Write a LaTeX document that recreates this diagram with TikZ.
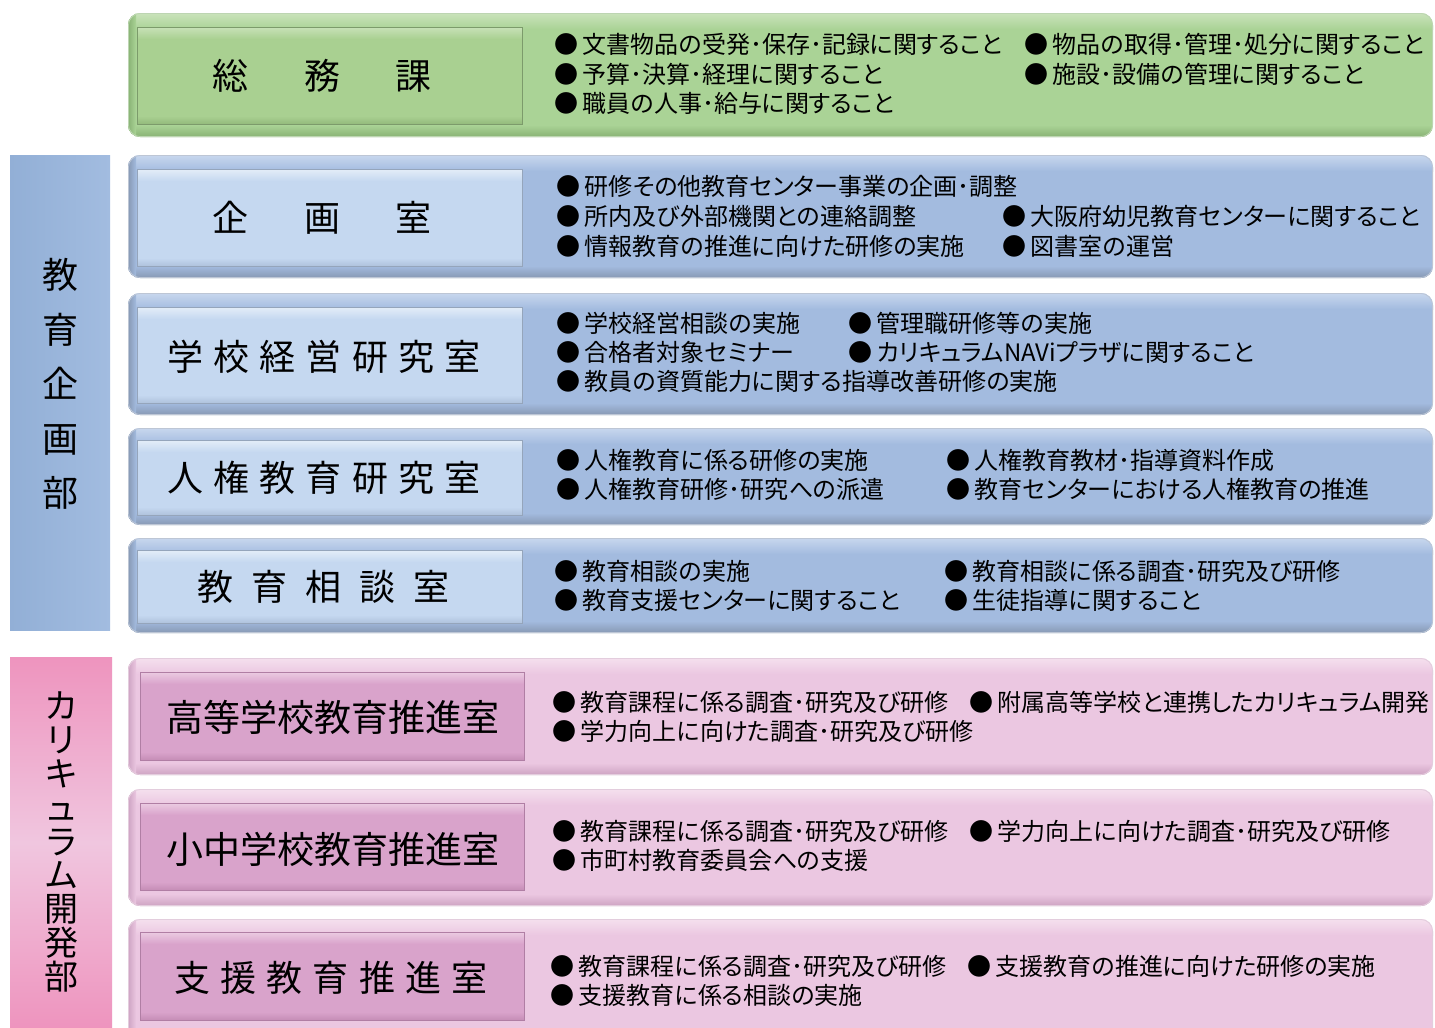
\documentclass[tikz,border=0pt]{standalone}
\usepackage{fontspec}
\setmainfont{Noto Sans CJK JP}
\newfontfamily\jpprop[RawFeature=+palt]{Noto Sans CJK JP}
\definecolor{gTop}{HTML}{CAE3BB}
\definecolor{gBody}{HTML}{AAD396}
\definecolor{gEdge}{HTML}{88B274}
\definecolor{gIn}{HTML}{A9D091}
\definecolor{gInTop}{HTML}{C8E2B8}
\definecolor{gInBot}{HTML}{93BA7C}
\definecolor{gInEdge}{HTML}{7C9B6B}
\definecolor{bTop}{HTML}{C8D7EE}
\definecolor{bBody}{HTML}{A3BBDF}
\definecolor{bEdge}{HTML}{8798B3}
\definecolor{bIn}{HTML}{C5D8F0}
\definecolor{bInTop}{HTML}{E4EDF8}
\definecolor{bInBot}{HTML}{AFC2DC}
\definecolor{bInEdge}{HTML}{95A5BB}
\definecolor{pTop}{HTML}{F5E0EE}
\definecolor{pBody}{HTML}{EBC7E1}
\definecolor{pEdge}{HTML}{CDA3C2}
\definecolor{pIn}{HTML}{D9A3CB}
\definecolor{pInTop}{HTML}{EBCBE2}
\definecolor{pInBot}{HTML}{C58DB6}
\definecolor{pInEdge}{HTML}{B07EA4}
\definecolor{barBlueA}{HTML}{92AFD6}
\definecolor{barBlueB}{HTML}{A2BCE0}
\definecolor{barPinkA}{HTML}{EE94BE}
\definecolor{barPinkB}{HTML}{F0C6DF}
\newcommand\itembul{●\kern.2em}
% outer row box: prefix, top y, bottom y
\newcommand\orgrow[3]{%
  \begin{scope}
    \clip[rounded corners=12pt] (128,#2) rectangle (1433,#3);
    \fill[#1Body] (128,#2) rectangle (1433,#3);
    \shade[top color=#1Top, bottom color=#1Body] (128,#2) rectangle (1433,#2+16);
    \shade[top color=#1Body, bottom color=#1Edge] (128,#3-12) rectangle (1433,#3);
    \shade[left color=#1Edge, right color=#1Body] (128,#2) rectangle (136,#3);
  \end{scope}
  \draw[#1Edge!55, rounded corners=12pt, line width=0.8pt] (128.4,#2+.4) rectangle (1432.6,#3-.4);
}
% inner label box: prefix, x1, y1, x2, y2
\newcommand\labbox[5]{%
  \fill[#1In] (#2,#3) rectangle (#4,#5);
  \shade[top color=#1InTop, bottom color=#1In] (#2,#3) rectangle (#4,#3+12);
  \shade[top color=#1In, bottom color=#1InBot] (#2,#5-8) rectangle (#4,#5);
  \draw[#1InEdge, line width=1pt] (#2,#3) rectangle (#4,#5);
}
\begin{document}
\begin{tikzpicture}[x=1pt,y=-1pt,
  item/.style={anchor=west, inner sep=0pt, yshift=-6pt, font=\jpprop\fontsize{24}{24}\selectfont, text height=0.8em, text depth=0.2em},
  lab/.style={inner sep=0pt, font=\fontsize{36}{36}\selectfont},
  vlab/.style={inner sep=0pt, align=center},
]
\useasboundingbox (0,0) rectangle (1435,1028);
\fill[white] (0,0) rectangle (1435,1028);

% left bars
\shade[left color=barBlueA, right color=barBlueB] (10,155) rectangle (110,630);
\shade[top color=barPinkA, bottom color=barPinkA, middle color=barPinkB] (10,657) rectangle (112,1028);
\node[vlab, font=\fontsize{36}{54.5}\selectfont] (kikaku) at (60,384) {教\\育\\企\\画\\部};
\node[vlab, font=\fontsize{34}{33.8}\selectfont] (curri) at (61,842) {カ\\リ\\キ\\ュ\\ラ\\ム\\開\\発\\部};

% ---- green row
\orgrow{g}{13}{137}
\labbox{g}{137}{27}{522}{124}
\node[lab] (soumu) at (322,76) {総\kern1.55em 務\kern1.55em 課};

% ---- blue rows
\orgrow{b}{155}{278}
\labbox{b}{137}{169}{522}{266}
\node[lab] (kikakushitsu) at (322,218) {企\kern1.55em 画\kern1.55em 室};

\orgrow{b}{293}{415}
\labbox{b}{137}{307}{522}{403}
\node[lab] (gakkou) at (324,357) {学\kern.28em 校\kern.28em 経\kern.28em 営\kern.28em 研\kern.28em 究\kern.28em 室};

\orgrow{b}{428}{525}
\labbox{b}{137}{440}{522}{515}
\node[lab] (jinken) at (324,478) {人\kern.28em 権\kern.28em 教\kern.28em 育\kern.28em 研\kern.28em 究\kern.28em 室};

\orgrow{b}{538}{633}
\labbox{b}{137}{550}{522}{623}
\node[lab] (soudan) at (323,587) {教\kern.5em 育\kern.5em 相\kern.5em 談\kern.5em 室};

% ---- pink rows
\orgrow{p}{658}{775}
\labbox{p}{140}{672}{524}{760}
\node[lab, font=\fontsize{37}{37}\selectfont] (koutou) at (333,717) {高等学校教育推進室};

\orgrow{p}{789}{906}
\labbox{p}{140}{803}{524}{890}
\node[lab, font=\fontsize{37}{37}\selectfont] (shouchuu) at (333,849) {小中学校教育推進室};

\orgrow{p}{919}{1040}
\labbox{p}{140}{932}{524}{1020}
\node[lab] (shien) at (331,978) {支\kern.28em 援\kern.28em 教\kern.28em 育\kern.28em 推\kern.28em 進\kern.28em 室};

% ---- items
\node[item] (s1) at (554,44) {\itembul 文書物品の受発･保存･記録に関すること};
\node[item] (s2) at (554,74) {\itembul 予算･決算･経理に関すること};
\node[item] (s3) at (554,103) {\itembul 職員の人事･給与に関すること};
\node[item] (s4) at (1024,44) {\itembul 物品の取得･管理･処分に関すること};
\node[item] (s5) at (1024,74) {\itembul 施設･設備の管理に関すること};

\node[item] (k1) at (556,186) {\itembul 研修その他教育センター事業の企画･調整};
\node[item] (k2) at (556,216) {\itembul 所内及び外部機関との連絡調整};
\node[item] (k3) at (556,246) {\itembul 情報教育の推進に向けた研修の実施};
\node[item] (k4) at (1002,216) {\itembul 大阪府幼児教育センターに関すること};
\node[item] (k5) at (1002,246) {\itembul 図書室の運営};

\node[item] (g1) at (556,323) {\itembul 学校経営相談の実施};
\node[item] (g2) at (556,352) {\itembul 合格者対象セミナー};
\node[item] (g3) at (556,381) {\itembul 教員の資質能力に関する指導改善研修の実施};
\node[item] (g4) at (848,323) {\itembul 管理職研修等の実施};
\node[item] (g5) at (848,352) {\itembul カリキュラムNAViプラザに関すること};

\node[item] (j1) at (556,460) {\itembul 人権教育に係る研修の実施};
\node[item] (j2) at (556,489) {\itembul 人権教育研修･研究への派遣};
\node[item] (j3) at (946,460) {\itembul 人権教育教材･指導資料作成};
\node[item] (j4) at (946,489) {\itembul 教育センターにおける人権教育の推進};

\node[item] (d1) at (554,571) {\itembul 教育相談の実施};
\node[item] (d2) at (554,600) {\itembul 教育支援センターに関すること};
\node[item] (d3) at (944,571) {\itembul 教育相談に係る調査･研究及び研修};
\node[item] (d4) at (944,600) {\itembul 生徒指導に関すること};

\node[item] (h1) at (552,702) {\itembul 教育課程に係る調査･研究及び研修};
\node[item] (h2) at (552,731) {\itembul 学力向上に向けた調査･研究及び研修};
\node[item] (h3) at (969,702) {\itembul 附属高等学校と連携したカリキュラム開発};

\node[item] (c1) at (552,831) {\itembul 教育課程に係る調査･研究及び研修};
\node[item] (c2) at (552,860) {\itembul 市町村教育委員会への支援};
\node[item] (c3) at (969,831) {\itembul 学力向上に向けた調査･研究及び研修};

\node[item] (e1) at (550,966) {\itembul 教育課程に係る調査･研究及び研修};
\node[item] (e2) at (550,995) {\itembul 支援教育に係る相談の実施};
\node[item] (e3) at (967,966) {\itembul 支援教育の推進に向けた研修の実施};
\end{tikzpicture}
\end{document}
